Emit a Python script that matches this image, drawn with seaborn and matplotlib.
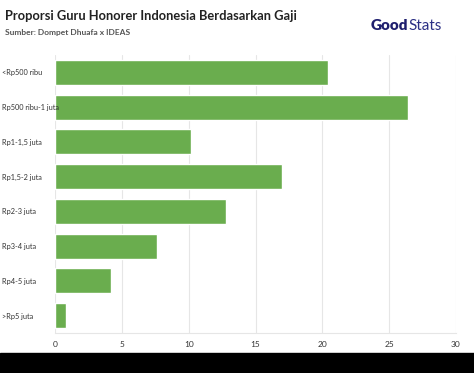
import matplotlib
matplotlib.use("Agg")
import matplotlib.pyplot as plt
import seaborn as sns
import pandas as pd
from matplotlib.patches import Rectangle

# data (percent)
categories = ['<Rp500 ribu', 'Rp500 ribu-1 juta', 'Rp1-1,5 juta', 'Rp1,5-2 juta',
              'Rp2-3 juta', 'Rp3-4 juta', 'Rp4-5 juta', '>Rp5 juta']
values = [20.4, 26.4, 10.2, 17.0, 12.8, 7.6, 4.2, 0.8]
x_ticks = [0, 5, 10, 15, 20, 25, 30]

df = pd.DataFrame({'kategori': categories, 'persen': values})

sns.set_style('white')
plt.rcParams['font.family'] = ['Lato', 'DejaVu Sans']

fig = plt.figure(figsize=(4.74, 3.73), dpi=100)
ax = fig.add_axes([55 / 474, 1 - 333 / 373, 401 / 474, 278 / 373])

sns.barplot(data=df, x='persen', y='kategori', color='#6aad4e', saturation=1,
            width=0.72, ax=ax, zorder=3)

ax.set_xlim(0, 30)
ax.set_xticks(x_ticks)
ax.set_xlabel('')
ax.set_ylabel('')
ax.grid(axis='x', color='#e6e6e6', linewidth=0.8, zorder=0)
ax.grid(axis='y', visible=False)
for side in ['top', 'right', 'left']:
    ax.spines[side].set_visible(False)
ax.spines['bottom'].set_color('#e6e6e6')
ax.tick_params(axis='x', length=0, labelsize=6, colors='#333333', pad=6)
ax.tick_params(axis='y', length=0, labelsize=5.3, colors='#333333', pad=38.5)
for lbl in ax.get_yticklabels():
    lbl.set_horizontalalignment('left')
ax.yaxis.set_zorder(5)  # keep the long label readable over the bar edge

fig.text(5 / 474, 1 - 16 / 373, 'Proporsi Guru Honorer Indonesia Berdasarkan Gaji',
         fontsize=9.3, fontweight='bold', color='#222222', va='center')
fig.text(5 / 474, 1 - 33 / 373, 'Sumber: Dompet Dhuafa x IDEAS',
         fontsize=6, fontweight='bold', color='#555555', va='center')

# logo text
good = fig.text(371 / 474, 1 - 26 / 373, 'Good', fontsize=11, fontweight='heavy',
                color='#1f1f6e', va='center')
fig.canvas.draw()
bb = good.get_window_extent(fig.canvas.get_renderer())
fig.text(bb.x1 / fig.bbox.width, 1 - 26 / 373, 'Stats', fontsize=11,
         fontweight='normal', color='#2b2f85', va='center')

# black band at the bottom
fig.patches.append(Rectangle((0, 0), 1, 20 / 373, transform=fig.transFigure,
                             color='black', zorder=10))

fig.savefig('out.png', dpi=100)
